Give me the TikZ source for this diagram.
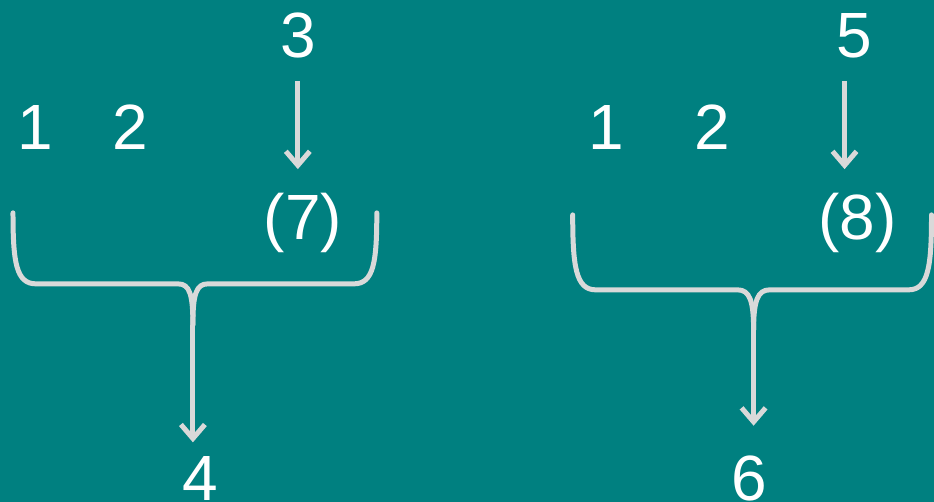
\documentclass[tikz,border=0pt]{standalone}
\usepackage{fontspec}
\setmainfont{Liberation Sans}
\usetikzlibrary{arrows.meta}
\definecolor{tealbg}{RGB}{0,128,128}
\definecolor{lightline}{RGB}{217,217,217}

\begin{document}
\begin{tikzpicture}[
    x=0.5pt, y=-0.5pt,
    num/.style={text=white,inner sep=0pt,anchor=base,font=\fontsize{32}{38}\selectfont},
    arr/.style={-{Straight Barb[length=7pt,width=12pt]},line width=2.5pt,lightline},
    brace/.style={line width=2.5pt,lightline,line cap=round,line join=round},
  ]
  \fill[tealbg] (0,0) rectangle (934,502);

  % left group
  \node[num] (l1) at (35,150) {1};
  \node[num] (l2) at (130,150) {2};
  \node[num] (l3) at (298,58) {3};
  \node[num] (l7) at (303,240) {(7)};
  \node[num] (l4) at (200,501) {4};
  \draw[arr,shorten <=11pt,shorten >=12pt] (l3) -- (l3 |- l7.north);

  \coordinate (lm) at (193,325);
  \draw[brace] (13,213) .. controls (13,262) and (16,284) .. (36,284) -- (178,284)
    .. controls (190,284) and (193,295) .. (lm);
  \draw[brace] (377,213) .. controls (377,262) and (374,284) .. (354,284) -- (208,284)
    .. controls (196,284) and (193,295) .. (lm);
  \draw[arr,shorten >=7pt] (lm) -- (lm |- l4.north);

  % right group
  \node[num] (r1) at (607,150) {1};
  \node[num] (r2) at (713,150) {2};
  \node[num] (r5) at (855,58) {5};
  \node[num] (r8) at (858,240) {(8)};
  \node[num] (r6) at (750,501) {6};
  \draw[arr,shorten <=11pt,shorten >=12pt] (r5.south -| 845,0) -- (845,0 |- r8.north);

  \coordinate (rm) at (754,330);
  \draw[brace] (573,215) .. controls (573,266) and (576,290) .. (596,290) -- (738,290)
    .. controls (750,290) and (754,301) .. (rm);
  \draw[brace] (932,215) .. controls (932,266) and (929,290) .. (909,290) -- (770,290)
    .. controls (758,290) and (754,301) .. (rm);
  \draw[arr,shorten >=15pt] (rm) -- (rm |- r6.north);
\end{tikzpicture}
\end{document}
